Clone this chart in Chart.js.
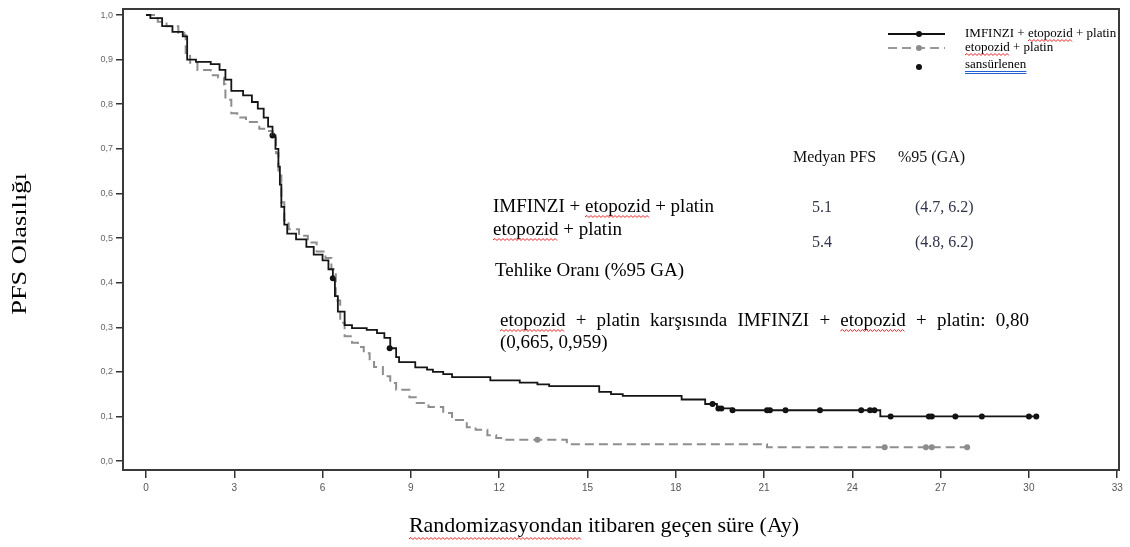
<!DOCTYPE html>
<html>
<head>
<meta charset="utf-8">
<script src="https://cdn.jsdelivr.net/npm/chart.js@4.4.1/dist/chart.umd.min.js"></script>
<style>
html, body { margin: 0; padding: 0; background: #fff; }
</style>
</head>
<body>
<canvas id="c" width="1130" height="547"></canvas>
<script>
// series names / legend
const seriesNames = ['IMFINZI + etopozid + platin', 'etopozid + platin', 'sansürlenen'];

// axis ticks
const xTicks = [0, 3, 6, 9, 12, 15, 18, 21, 24, 27, 30, 33];
const yTicks = [0, 0.1, 0.2, 0.3, 0.4, 0.5, 0.6, 0.7, 0.8, 0.9, 1.0];

// IMFINZI + etopozid + platin (KM steps, months / PFS probability)
const imfTime = [0, 0.15, 0.55, 0.9, 1.25, 1.4, 1.7, 2.2, 2.5, 2.7, 2.9, 3.3, 3.6, 3.8, 4.0, 4.15, 4.3, 4.4, 4.5, 4.55,
  4.6, 4.7, 4.8, 5.1, 5.45, 5.7, 6.0, 6.2, 6.35, 6.42, 6.52, 6.75, 7.0, 7.5, 7.85, 8.1, 8.3, 8.5, 8.6, 9.15,
  9.55, 9.75, 10.1, 10.4, 11.7, 12.7, 13.3, 13.7, 15.4, 15.8, 16.2, 18.2, 19.0, 19.4, 19.9, 24.95, 30.3];
const imfSurv = [1.0, 0.993, 0.975, 0.962, 0.952, 0.9, 0.895, 0.89, 0.877, 0.855, 0.83, 0.82, 0.805, 0.79, 0.77, 0.75, 0.73, 0.70, 0.66, 0.62,
  0.57, 0.53, 0.51, 0.497, 0.48, 0.463, 0.45, 0.43, 0.41, 0.37, 0.335, 0.305, 0.298, 0.294, 0.287, 0.276, 0.253, 0.233, 0.222, 0.21,
  0.205, 0.2, 0.195, 0.188, 0.181, 0.176, 0.172, 0.168, 0.155, 0.15, 0.146, 0.138, 0.128, 0.118, 0.114, 0.10, 0.10];

// etopozid + platin
const epTime = [0, 0.4, 0.7, 1.1, 1.3, 1.35, 1.5, 1.75, 2.2, 2.45, 2.65, 2.7, 2.9, 3.1, 3.4, 3.85, 4.1, 4.3, 4.42, 4.5,
  4.6, 4.7, 4.85, 5.2, 5.5, 5.8, 6.1, 6.3, 6.45, 6.6, 6.75, 7.0, 7.2, 7.4, 7.6, 7.75, 8.05, 8.3, 8.5, 8.95,
  9.2, 9.6, 10.1, 10.4, 10.9, 11.2, 11.6, 11.9, 12.2, 14.3, 21.1, 28.0];
const epSurv = [1.0, 0.985, 0.975, 0.96, 0.955, 0.915, 0.893, 0.877, 0.865, 0.86, 0.845, 0.81, 0.78, 0.77, 0.76, 0.745, 0.74, 0.725, 0.69, 0.64,
  0.58, 0.54, 0.52, 0.505, 0.49, 0.47, 0.455, 0.43, 0.36, 0.31, 0.28, 0.265, 0.256, 0.242, 0.225, 0.211, 0.19, 0.175, 0.16, 0.143,
  0.13, 0.121, 0.108, 0.092, 0.076, 0.07, 0.058, 0.052, 0.048, 0.038, 0.031, 0.031];

// censored marks
const imfCensTime = [4.3, 6.35, 8.28, 19.25, 19.45, 19.55, 19.93, 21.1, 21.2, 21.73, 22.9, 24.3, 24.6, 24.75, 25.3, 26.6, 26.7, 27.5, 28.4, 30.0, 30.25];
const imfCensSurv = [0.73, 0.41, 0.253, 0.128, 0.118, 0.118, 0.114, 0.114, 0.114, 0.114, 0.114, 0.114, 0.114, 0.114, 0.10, 0.10, 0.10, 0.10, 0.10, 0.10, 0.10];
const epCensTime = [13.3, 25.1, 26.5, 26.7, 27.9];
const epCensSurv = [0.048, 0.031, 0.031, 0.031, 0.031];

// summary table
const medianPfs = ['5.1', '5.4'];
const medianCi = ['(4.7, 6.2)', '(4.8, 6.2)'];
const hrLine = 'etopozid + platin karşısında IMFINZI + etopozid + platin: 0,80';
const hrCi = '(0,665, 0,959)';

const SERIF = '"Liberation Serif", "Times New Roman", serif';

function pts(xs, ys) {
  return xs.map((x, i) => ({ x: x, y: ys[i] }));
}

function wavy(ctx, x1, x2, y, color) {
  ctx.save();
  ctx.strokeStyle = color;
  ctx.lineWidth = 1;
  ctx.beginPath();
  let up = true;
  ctx.moveTo(x1, y);
  for (let x = x1 + 2; x <= x2; x += 2) {
    ctx.lineTo(x, up ? y - 1.5 : y + 0.5);
    up = !up;
  }
  ctx.stroke();
  ctx.restore();
}

// underline a word inside a string drawn at (x, y)
function markWord(ctx, text, word, x, y, color) {
  const idx = text.indexOf(word);
  if (idx < 0) return;
  const x1 = x + ctx.measureText(text.slice(0, idx)).width;
  const x2 = x1 + ctx.measureText(word).width;
  wavy(ctx, x1, x2, y, color);
}

const decor = {
  id: 'decor',
  beforeDatasetsDraw(chart) {
    const { ctx, chartArea: a } = chart;
    ctx.save();
    ctx.strokeStyle = '#3a3a3a';
    ctx.lineWidth = 2;
    ctx.strokeRect(a.left, a.top, a.right - a.left, a.bottom - a.top);
    ctx.restore();
  },
  afterDraw(chart) {
    const ctx = chart.ctx;
    ctx.save();
    ctx.textBaseline = 'middle';
    ctx.fillStyle = '#000';

    // axis titles
    ctx.font = '22px ' + SERIF;
    ctx.textAlign = 'center';
    const xt = 'Randomizasyondan itibaren geçen süre (Ay)';
    ctx.fillText(xt, 604, 526);
    const xw = ctx.measureText(xt).width;
    wavy(ctx, 604 - xw / 2, 604 - xw / 2 + ctx.measureText('Randomizasyondan').width, 539, '#e02020');
    ctx.save();
    ctx.translate(20, 244);
    ctx.rotate(-Math.PI / 2);
    ctx.scale(1.2, 1);
    ctx.fillText('PFS Olasılığı', 0, 0);
    ctx.restore();

    // legend
    ctx.textAlign = 'left';
    ctx.lineWidth = 2;
    ctx.strokeStyle = '#111';
    ctx.beginPath(); ctx.moveTo(888, 34); ctx.lineTo(945, 34); ctx.stroke();
    ctx.strokeStyle = '#999';
    ctx.setLineDash([9, 5]);
    ctx.beginPath(); ctx.moveTo(888, 48); ctx.lineTo(945, 48); ctx.stroke();
    ctx.setLineDash([]);
    ctx.fillStyle = '#111';
    ctx.beginPath(); ctx.arc(919, 34, 3, 0, Math.PI * 2); ctx.fill();
    ctx.fillStyle = '#8c8c8c';
    ctx.beginPath(); ctx.arc(919, 48, 3, 0, Math.PI * 2); ctx.fill();
    ctx.fillStyle = '#111';
    ctx.beginPath(); ctx.arc(919, 67, 3, 0, Math.PI * 2); ctx.fill();
    ctx.font = '13px ' + SERIF;
    ctx.fillStyle = '#000';
    ctx.fillText(seriesNames[0], 965, 34);
    markWord(ctx, seriesNames[0], 'etopozid', 965, 41, '#e02020');
    ctx.fillText(seriesNames[1], 965, 48);
    markWord(ctx, seriesNames[1], 'etopozid', 965, 55, '#e02020');
    ctx.fillText(seriesNames[2], 965, 65);
    const sw = ctx.measureText(seriesNames[2]).width;
    ctx.strokeStyle = '#2060d0';
    ctx.lineWidth = 1;
    ctx.beginPath();
    ctx.moveTo(965, 71.5); ctx.lineTo(965 + sw, 71.5);
    ctx.moveTo(965, 73.5); ctx.lineTo(965 + sw, 73.5);
    ctx.stroke();

    // summary table
    ctx.font = '16px ' + SERIF;
    ctx.fillStyle = '#111';
    ctx.fillText('Medyan PFS', 793, 158);
    ctx.fillText('%95 (GA)', 898, 158);
    ctx.fillStyle = '#30344a';
    ctx.fillText(medianPfs[0], 812, 208);
    ctx.fillText(medianCi[0], 915, 208);
    ctx.fillText(medianPfs[1], 812, 243);
    ctx.fillText(medianCi[1], 915, 243);

    ctx.font = '19px ' + SERIF;
    ctx.fillStyle = '#000';
    ctx.fillText(seriesNames[0], 493, 207);
    markWord(ctx, seriesNames[0], 'etopozid', 493, 217, '#e02020');
    ctx.fillText(seriesNames[1], 493, 230);
    markWord(ctx, seriesNames[1], 'etopozid', 493, 240, '#e02020');
    ctx.fillText('Tehlike Oranı (%95 GA)', 495, 271);

    // justified hazard ratio line
    const words = hrLine.split(' ');
    const x0 = 500, x1 = 1029;
    const total = words.reduce((s, w) => s + ctx.measureText(w).width, 0);
    const gap = (x1 - x0 - total) / (words.length - 1);
    let x = x0;
    words.forEach(w => {
      ctx.fillText(w, x, 321);
      const ww = ctx.measureText(w).width;
      if (w === 'etopozid') wavy(ctx, x, x + ww, 331, '#e02020');
      x += ww + gap;
    });
    ctx.fillText(hrCi, 500, 343);
    ctx.restore();
  }
};

new Chart(document.getElementById('c'), {
  type: 'line',
  data: {
    datasets: [
      {
        label: seriesNames[0],
        data: pts(imfTime, imfSurv),
        stepped: true,
        borderColor: '#151515',
        borderWidth: 1.8,
        pointRadius: 0,
        fill: false
      },
      {
        label: seriesNames[1],
        data: pts(epTime, epSurv),
        stepped: true,
        borderColor: '#8e8e8e',
        borderWidth: 2,
        borderDash: [9, 5],
        pointRadius: 0,
        fill: false
      },
      {
        label: seriesNames[2],
        type: 'scatter',
        data: pts(imfCensTime, imfCensSurv),
        pointRadius: 3,
        pointBackgroundColor: '#111',
        pointBorderWidth: 0,
        showLine: false
      },
      {
        label: seriesNames[2] + ' (etopozid + platin)',
        type: 'scatter',
        data: pts(epCensTime, epCensSurv),
        pointRadius: 3,
        pointBackgroundColor: '#8c8c8c',
        pointBorderWidth: 0,
        showLine: false
      }
    ]
  },
  options: {
    responsive: false,
    animation: false,
    devicePixelRatio: 1,
    layout: { padding: { top: 9, right: 11, left: 0, bottom: 0 } },
    plugins: {
      legend: { display: false },
      tooltip: { enabled: false }
    },
    scales: {
      x: {
        type: 'linear',
        min: -0.78,
        max: 33.06,
        afterBuildTicks: s => { s.ticks = xTicks.map(v => ({ value: v })); },
        afterFit: s => { s.height = 77; },
        grid: { drawOnChartArea: false, tickLength: 8, color: '#333', lineWidth: 1.5 },
        border: { display: false },
        ticks: {
          padding: 4,
          color: '#555',
          font: { family: '"Liberation Sans Narrow", "Liberation Sans", sans-serif', size: 10 },
          callback: v => String(v)
        }
      },
      y: {
        min: -0.02,
        max: 1.0135,
        afterBuildTicks: s => { s.ticks = yTicks.map(v => ({ value: v })); },
        afterFit: s => { s.width = 123; },
        grid: { drawOnChartArea: false, tickLength: 7, color: '#333', lineWidth: 1.5 },
        border: { display: false },
        ticks: {
          padding: 3,
          color: '#666',
          font: { family: '"Liberation Sans", Arial, sans-serif', size: 9 },
          callback: v => v.toFixed(1).replace('.', ',')
        }
      }
    }
  },
  plugins: [decor]
});
</script>
</body>
</html>
